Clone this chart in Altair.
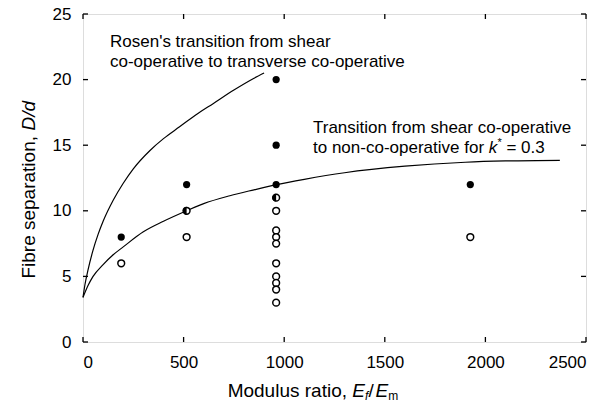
import altair as alt
import pandas as pd

# ---------------- data ----------------
filled_x = [190, 515, 960, 960, 960, 1925]
filled_y = [8, 12, 20, 15, 12, 12]
open_x = [190, 515, 960, 960, 960, 960, 960, 960, 960, 960, 960, 1925]
open_y = [6, 8, 10, 8.5, 8, 7.5, 6, 5, 4.5, 4, 3, 8]
half_x = [515, 960]
half_y = [10, 11]

rosen_x = [0, 10, 25, 50, 75, 100, 150, 200, 250, 333, 400, 480, 560, 650, 750, 850, 900]
rosen_y = [3.4, 4.4, 5.5, 7.0, 8.2, 9.2, 10.8, 12.1, 13.2, 14.6, 15.5, 16.4, 17.3, 18.2, 19.2, 20.1, 20.5]
kstar_x = [0, 25, 50, 100, 150, 200, 300, 400, 515, 600, 730, 850, 963, 1100, 1300, 1600, 1900, 2100, 2370]
kstar_y = [3.4, 4.3, 5.0, 5.9, 6.65, 7.25, 8.4, 9.2, 10.0, 10.55, 11.15, 11.6, 12.0, 12.4, 12.9, 13.4, 13.7, 13.8, 13.85]

x_ticks = [0, 500, 1000, 1500, 2000, 2500]
y_ticks = [0, 5, 10, 15, 20, 25]

W, H = 503, 328
FONT = "Liberation Sans"

xs = alt.Scale(domain=[0, 2500], nice=False, zero=False)
ys = alt.Scale(domain=[0, 25], nice=False, zero=False)
xaxis = alt.Axis(values=x_ticks, format="d", ticks=False, domain=False, grid=False, title=None,
                 labelFont=FONT, labelFontSize=17, labelColor="black", labelPadding=12)
yaxis = alt.Axis(values=y_ticks, format="d", ticks=False, domain=False, grid=False, title=None,
                 labelFont=FONT, labelFontSize=17, labelColor="black", labelPadding=12)

def X(field="x"):
    return alt.X(f"{field}:Q", scale=xs, axis=xaxis)

def Y(field="y"):
    return alt.Y(f"{field}:Q", scale=ys, axis=yaxis)

curves = pd.concat([
    pd.DataFrame({"x": rosen_x, "y": rosen_y, "c": "rosen", "i": range(len(rosen_x))}),
    pd.DataFrame({"x": kstar_x, "y": kstar_y, "c": "kstar", "i": range(len(kstar_x))}),
])
lines = alt.Chart(curves).mark_line(color="black", strokeWidth=1.2, interpolate="monotone").encode(
    x=X(), y=Y(), detail="c:N", order="i:Q")

filled = alt.Chart(pd.DataFrame({"x": filled_x, "y": filled_y})).mark_point(
    shape="circle", filled=True, color="black", size=52, opacity=1).encode(x=X(), y=Y())
opened = alt.Chart(pd.DataFrame({"x": open_x, "y": open_y})).mark_point(
    shape="circle", filled=True, fill="white", stroke="black", strokeWidth=1.5, size=46,
    opacity=1).encode(x=X(), y=Y())
half_df = pd.DataFrame({"x": half_x, "y": half_y})
half_open = alt.Chart(half_df).mark_point(
    shape="circle", filled=True, fill="white", stroke="black", strokeWidth=1.5, size=46,
    opacity=1).encode(x=X(), y=Y())
half_fill = alt.Chart(half_df).mark_point(
    shape="M 0 -1 A 1 1 0 0 0 0 1 Z", filled=True, color="black", size=62,
    opacity=1).encode(x=X(), y=Y())

# inward ticks on all four sides
xt = pd.DataFrame({"x": x_ticks})
yt = pd.DataFrame({"y": y_ticks})
tb = alt.Chart(xt).mark_rule(color="black", strokeWidth=1.3).encode(
    x=X(), y=alt.value(H), y2=alt.value(H - 5))
tt = alt.Chart(xt).mark_rule(color="black", strokeWidth=1.3).encode(
    x=X(), y=alt.value(0), y2=alt.value(5))
tl = alt.Chart(yt).mark_rule(color="black", strokeWidth=1.3).encode(
    y=Y(), x=alt.value(0), x2=alt.value(5))
tr = alt.Chart(yt).mark_rule(color="black", strokeWidth=1.3).encode(
    y=Y(), x=alt.value(W), x2=alt.value(W - 5))

def txt(s, px, py, size=17, style="normal", align="left", angle=0, baseline="middle"):
    kw = dict(font=FONT, fontSize=size, fontStyle=style, align=align,
              baseline=baseline, color="black")
    if angle:
        kw["angle"] = angle
    return alt.Chart(pd.DataFrame({"t": [s]})).mark_text(**kw).encode(
        text="t:N", x=alt.value(px), y=alt.value(py))

TS = 19
ann = [
    txt("Rosen's transition from shear", 27, 28),
    txt("co-operative to transverse co-operative", 27, 48),
    txt("Transition from shear co-operative", 230, 114),
    txt("to non-co-operative for", 230, 134),
    txt("k", 405.7, 134, style="italic"),
    txt("*", 414.4, 129, size=11),
    txt("= 0.3", 423.4, 134),
    # x title
    txt("Modulus ratio,", 264, H + 49, size=TS, align="right"),
    txt("E", 269.3, H + 49, size=TS, style="italic"),
    txt("f", 282.0, H + 54, size=12, style="italic"),
    txt("/", 285.5, H + 49, size=TS),
    txt("E", 292.6, H + 49, size=TS, style="italic"),
    txt("m", 305.3, H + 54, size=12),
    # y title
    txt("Fibre separation,", -54, 122, size=TS, align="right", angle=270),
    txt("D/d", -54, 116.5, size=TS, style="italic", align="left", angle=270),
]

chart = alt.layer(lines, half_open, half_fill, opened, filled, tb, tt, tl, tr, *ann).properties(
    width=W, height=H,
    autosize=alt.AutoSizeParams(type="none"),
    padding={"left": 83, "top": 14, "right": 20, "bottom": 70},
).configure_view(stroke="black", strokeWidth=1.6).configure(background="white")

chart.save("out.html", embed_options={"renderer": "svg", "actions": False})
